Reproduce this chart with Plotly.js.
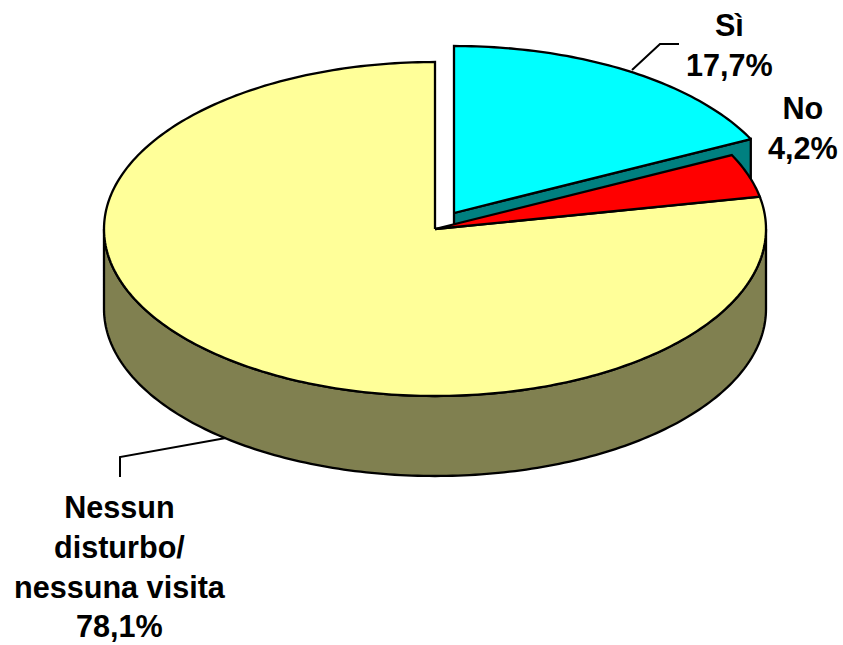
<!DOCTYPE html>
<html>
<head>
<meta charset="utf-8">
<script src="https://cdn.plot.ly/plotly-3.0.1.min.js"></script>
<style>html,body{margin:0;padding:0;background:#fff}#chart{width:843px;height:645px}</style>
</head>
<body>
<div id="chart"></div>
<script>
// Data
const categories = ["Sì", "No", "Nessun<br>disturbo/<br>nessuna visita"];
const values = [17.7, 4.2, 78.1];
const topColors = ["#00FFFF", "#FF0000", "#FFFF99"];
const cutFaceColor = "#008080";
const sideColor = "#808050";

// Projection of the tilted disc, in page-sized axis units
const center = [435, 229], radiusX = 331, radiusY = 167, depth = 80;
const explodeOffset = [19, -16];
const labelAt = [[729, 45], [803, 128], [120, 566]];
const leaders = [
  {x: [632, 660, 679], y: [70, 44, 44]},
  {x: [226, 120, 120], y: [438, 457, 477]}
];

const rad = d => d * Math.PI / 180;
const total = values.reduce((a, b) => a + b, 0);
const startDeg = [], endDeg = [];
values.reduce((acc, v, i) => {
  startDeg[i] = acc / total * 360;
  endDeg[i] = (acc + v) / total * 360;
  return acc + v;
}, 0);

function arc(c, a0, a1, dy) {
  const xs = [], ys = [], n = Math.max(2, Math.ceil(Math.abs(a1 - a0)));
  for (let i = 0; i <= n; i++) {
    const a = rad(a0 + (a1 - a0) * i / n);
    xs.push(c[0] + radiusX * Math.sin(a));
    ys.push(c[1] - radiusY * Math.cos(a) + (dy || 0));
  }
  return {x: xs, y: ys};
}
function poly(x, y, color) {
  return {type: "scatter", mode: "lines", x, y, fill: "toself", fillcolor: color,
    line: {color: "#000", width: 2.3, simplify: false}, hoverinfo: "skip", showlegend: false};
}
function wedge(c, a0, a1, color) {
  const r = arc(c, a0, a1);
  return poly([c[0], ...r.x, c[0]], [c[1], ...r.y, c[1]], color);
}
const cExp = [center[0] + explodeOffset[0], center[1] + explodeOffset[1]];
const rim = arc(cExp, endDeg[0], endDeg[0]);
const cutFace = poly(
  [cExp[0], rim.x[0], rim.x[0], cExp[0], cExp[0]],
  [cExp[1], rim.y[0], rim.y[0] + depth, cExp[1] + depth, cExp[1]],
  cutFaceColor);
const upper = arc(center, 90, 270), lower = arc(center, 270, 90, depth);
const side = poly([...upper.x, ...lower.x, upper.x[0]], [...upper.y, ...lower.y, upper.y[0]], sideColor);

const traces = [
  cutFace,
  wedge(cExp, startDeg[0], endDeg[0], topColors[0]),
  side,
  wedge(center, startDeg[2], endDeg[2], topColors[2]),
  wedge(center, startDeg[1], endDeg[1], topColors[1]),
  ...leaders.map(l => ({type: "scatter", mode: "lines", x: l.x, y: l.y,
    line: {color: "#000", width: 2}, hoverinfo: "skip", showlegend: false}))
];

const annotations = categories.map((c, i) => ({
  x: labelAt[i][0], y: labelAt[i][1], xref: "x", yref: "y",
  text: "<b>" + c + "<br>" + values[i].toFixed(1).replace(".", ",") + "%</b>",
  showarrow: false, xanchor: "center", yanchor: "middle", align: "center",
  font: {family: "Liberation Sans, Arial, sans-serif", size: 30.6, color: "#000"}
}));

const hidden = {visible: false, fixedrange: true};
Plotly.newPlot("chart", traces, {
  width: 843, height: 645,
  margin: {l: 0, r: 0, t: 0, b: 0},
  paper_bgcolor: "#fff", plot_bgcolor: "#fff",
  showlegend: false,
  xaxis: Object.assign({range: [0, 843]}, hidden),
  yaxis: Object.assign({range: [645, 0]}, hidden),
  annotations
}, {displayModeBar: false, staticPlot: true});
</script>
</body>
</html>
